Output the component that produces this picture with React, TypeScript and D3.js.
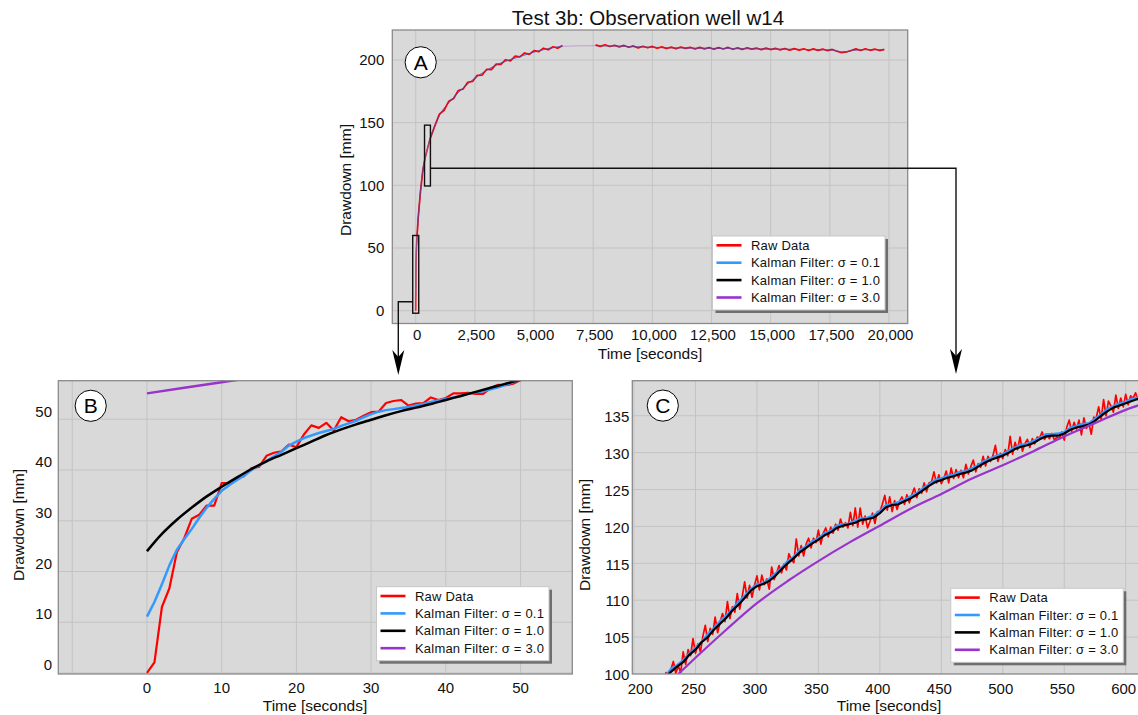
import React from "react";
import * as d3 from "d3";

const FONT = "'Liberation Sans', Arial, Helvetica, sans-serif";
const RED = "#ff0000";
const BLUE = "#3399ff";
const BLACK = "#000000";
const PURPLE = "#9933cc";
const BG = "#d9d9d9";
const GRID = "#c3c3c3";
const FRAME = "#8a8a8a";

// ---------------- shared legend ----------------
const legendLabels = [
  "Raw Data",
  "Kalman Filter: σ = 0.1",
  "Kalman Filter: σ = 1.0",
  "Kalman Filter: σ = 3.0",
];
const legendColors = [RED, BLUE, BLACK, PURPLE];

// ---------------- panel A (full test) ----------------
const xTicksA = [0, 2500, 5000, 7500, 10000, 12500, 15000, 17500, 20000];
const yTicksA = [0, 50, 100, 150, 200];

const rawA_early_t = [0, 10, 25, 50, 100, 200, 300, 400, 500, 600, 800];
const rawA_early_v = [0, 37.4, 47.8, 57.7, 73, 95, 112, 122, 129.6, 136.7, 147];

const rawA_rise_t = [
  1000, 1200, 1400, 1600, 1800, 2000, 2200, 2400, 2600, 2800, 3000, 3200, 3400, 3600,
  3800, 4000, 4200, 4400, 4600, 4800, 5000, 5200, 5400, 5600, 5800, 6000, 6200,
];
const rawA_rise_v = [
  156.8, 159.9, 167.1, 169.3, 175.6, 176.8, 182.2, 182.9, 187.7, 187.8, 192.6, 192.3,
  196.7, 196.5, 200.2, 199.3, 203.1, 202.4, 205.6, 204.5, 207.5, 206.6, 209.4, 208.1,
  210.5, 209.4, 211.5,
];

const rawA_late_t = [
  7600, 7800, 8000, 8200, 8400, 8600, 8800, 9000, 9200, 9400, 9600, 9800, 10000, 10200,
  10400, 10600, 10800, 11000, 11200, 11400, 11600, 11800, 12000, 12200, 12400, 12600,
  12800, 13000, 13200, 13400, 13600, 13800, 14000, 14200, 14400, 14600, 14800, 15000,
  15200, 15400, 15600, 15800, 16000, 16200, 16400, 16600, 16800, 17000, 17200, 17400,
  17600, 17800, 18000, 18200, 18400, 18600, 18800, 19000, 19200, 19400, 19600, 19800,
];
const rawA_late_v = [
  212.0, 210.8, 212.1, 210.7, 211.7, 210.4, 211.6, 210.1, 211.2, 209.6, 210.9, 209.7,
  210.8, 209.3, 210.4, 209.1, 210.2, 208.9, 210.3, 209.2, 210.1, 208.7, 210.0, 208.8,
  209.9, 208.6, 209.8, 208.7, 210.0, 208.5, 209.6, 208.4, 209.7, 208.6, 209.5, 208.2,
  209.4, 208.3, 209.3, 208.0, 209.1, 207.8, 209.0, 207.9, 208.9, 207.6, 208.8, 207.7,
  208.7, 207.4, 208.4, 207.0, 205.8, 206.4, 207.6, 208.8, 207.6, 208.9, 207.7, 208.7,
  207.5, 208.5,
];

const kalmanA_seg1_t = [
  0, 10, 25, 50, 100, 200, 300, 400, 500, 600, 800, 1000, 1500, 2000, 2500, 3000, 3500,
  4000, 4500, 5000, 5500, 6200,
];
const kalmanA_seg1_v = [
  11, 36, 48, 57, 72, 95, 112, 122, 129.6, 136.7, 147, 155.5, 168, 177.5, 185.5, 191.8,
  196.8, 200.3, 203.3, 206.3, 208.7, 210.9,
];
const kalmanA_seg2_t = [
  7600, 8500, 9500, 10500, 11500, 12500, 13500, 14500, 15500, 16500, 17500, 17800, 18000,
  18200, 18500, 19000, 19800,
];
const kalmanA_seg2_v = [
  211.4, 211.0, 210.4, 209.8, 209.5, 209.2, 209.1, 208.8, 208.6, 208.3, 208.0, 207.3,
  206.4, 206.6, 207.7, 208.2, 208.1,
];

// zoom windows drawn in panel A (data coordinates)
const zoomBoxB = { t0: -127, t1: 127, v0: -2, v1: 60, linkV: 7.2 };
const zoomBoxC = { t0: 372, t1: 621, v0: 99.5, v1: 148, linkV: 113.6 };

// ---------------- panel B (0 - 50 s) ----------------
const xTicksB = [0, 10, 20, 30, 40, 50];
const xGridB = [-10, 0, 10, 20, 30, 40, 50];
const yTicksB = [0, 10, 20, 30, 40, 50];

const timeB = d3.range(0, 51, 1);
const rawB = [
  0, 2.1, 13, 16.7, 23.8, 26.6, 30.4, 31.2, 33, 33, 37.4, 37.4, 38.4, 38.8, 40.4, 40.6,
  42.8, 43.4, 43.7, 45, 44.5, 47, 48.8, 48.3, 49.3, 47.8, 50.4, 49.6, 49.9, 50.7, 51.4,
  51.5, 53.2, 53.6, 53.8, 52.7, 53.1, 53.2, 54.3, 53.8, 54.2, 55.1, 55.1, 55.2, 55.0,
  55.0, 56.2, 56.8, 56.7, 57.0, 57.7,
];
const blueB = [
  11.1, 14.0, 17.5, 21.2, 24.3, 26.4, 28.4, 30.6, 32.6, 34.3, 35.9, 37.0, 38.0, 38.9,
  40.0, 40.9, 41.8, 42.7, 43.6, 44.8, 45.6, 46.3, 46.8, 47.3, 47.7, 48.1, 48.7, 49.2,
  49.7, 50.4, 51.0, 51.5, 51.8, 52.0, 52.2, 52.4, 52.7, 53.0, 53.4, 53.7, 54.0, 54.3,
  54.6, 55.0, 55.3, 55.5, 55.9, 56.3, 56.8, 57.3, 57.8,
];
const timeBlackB = d3.range(0, 51, 2);
const blackB = [
  24.0, 27.4, 30.2, 32.6, 34.8, 36.7, 38.5, 40.2, 41.7, 43.0, 44.3, 45.6, 46.9, 48.0,
  49.0, 49.9, 50.8, 51.6, 52.3, 53.0, 53.8, 54.6, 55.4, 56.2, 57.0, 57.8,
];
const timePurpleB = [0, 5, 10, 15];
const purpleB = [55.1, 56.2, 57.3, 58.4];

// ---------------- panel C (200 - 600 s) ----------------
const xTicksC = [200, 250, 300, 350, 400, 450, 500, 550, 600];
const yTicksC = [100, 105, 110, 115, 120, 125, 130, 135];

const timeRawC = d3.range(222, 611, 2);
const rawC = [
  98.8, 98.4, 100.2, 98.8, 100.6, 101.7, 100.1, 101.1, 100.2, 103.0,
  101.3, 103.3, 102.5, 104.8, 102.8, 104.1, 103.0, 105.1, 106.6, 104.4,
  106.2, 105.4, 107.7, 105.6, 107.0, 108.2, 107.1, 109.8, 107.5, 109.1,
  108.4, 110.9, 108.8, 110.5, 112.5, 110.3, 112.0, 110.4, 112.0, 113.3,
  111.4, 113.4, 112.1, 112.9, 111.5, 114.5, 112.8, 113.7, 114.7, 113.7,
  114.9, 114.1, 116.3, 115.5, 115.1, 118.3, 116.0, 117.4, 116.0, 117.6,
  118.4, 117.1, 118.4, 117.8, 119.5, 117.6, 119.1, 119.8, 118.6, 119.9,
  119.1, 120.3, 119.5, 121.0, 119.9, 120.5, 119.8, 121.9, 120.1, 122.5,
  119.9, 122.5, 120.3, 121.4, 119.8, 120.7, 121.8, 120.4, 122.0, 122.0,
  123.0, 124.2, 122.2, 124.0, 122.0, 123.5, 122.3, 123.4, 124.0, 123.0,
  124.3, 123.2, 124.3, 125.2, 123.9, 125.1, 124.5, 125.9, 124.7, 125.9,
  126.0, 127.4, 125.9, 127.0, 125.8, 126.5, 127.5, 125.9, 127.9, 126.5,
  127.7, 126.6, 127.6, 126.6, 128.4, 127.1, 128.1, 129.0, 127.4, 128.5,
  128.0, 129.5, 128.2, 129.5, 128.8, 129.6, 131.0, 128.8, 129.9, 129.2,
  130.4, 129.6, 132.2, 129.8, 131.4, 130.4, 132.1, 130.2, 131.2, 131.8,
  130.7, 131.9, 131.2, 132.1, 132.0, 132.8, 131.8, 132.3, 131.9, 132.6,
  131.7, 132.1, 131.9, 132.8, 131.7, 133.4, 134.4, 132.9, 134.1, 133.2,
  134.4, 132.4, 134.7, 133.3, 134.0, 132.5, 134.8, 134.7, 136.2, 134.5,
  137.2, 135.0, 137.0, 136.3, 135.5, 137.8, 136.0, 137.4, 136.2, 137.9,
  136.5, 137.7, 137.4, 138.1, 137.1,
];
const timeFilterC = d3.range(225, 611, 5);
const blueC = [
  99.6, 100.7, 101.2, 101.9, 102.8, 103.6, 104.4, 105.4, 106.2, 107.2, 107.9, 108.8,
  109.8, 110.6, 111.5, 112.2, 112.3, 112.9, 113.6, 114.4, 115.3, 115.9, 116.8, 117.3,
  118.0, 118.4, 119.1, 119.4, 120.1, 120.3, 120.4, 120.8, 121.1, 121.2, 121.5, 122.1,
  122.9, 123.0, 123.3, 123.6, 124.1, 124.5, 125.2, 125.7, 126.3, 126.5, 126.9, 127.0,
  127.4, 127.5, 127.9, 128.3, 128.9, 129.2, 129.6, 129.8, 130.3, 130.7, 131.1, 131.2,
  131.6, 132.0, 132.5, 132.5, 132.6, 132.8, 133.4, 133.6, 133.9, 134.0, 134.6, 135.2,
  135.9, 136.3, 136.7, 136.9, 137.3, 137.5,
];
const blackC = [
  99.4, 100.3, 101.0, 101.6, 102.6, 103.3, 104.3, 105.0, 106.0, 106.8, 107.6, 108.6,
  109.4, 110.3, 111.3, 111.9, 112.2, 112.6, 113.3, 114.2, 115.0, 115.7, 116.5, 117.1,
  117.7, 118.2, 118.8, 119.2, 119.8, 120.1, 120.3, 120.5, 120.9, 121.0, 121.2, 121.8,
  122.6, 122.9, 123.0, 123.4, 123.8, 124.3, 124.9, 125.5, 126.0, 126.3, 126.6, 126.8,
  127.1, 127.3, 127.6, 128.1, 128.6, 129.0, 129.3, 129.6, 130.0, 130.5, 130.8, 131.0,
  131.3, 131.8, 132.2, 132.3, 132.3, 132.6, 133.1, 133.4, 133.6, 133.8, 134.3, 135.0,
  135.6, 136.1, 136.4, 136.7, 137.0, 137.3,
];
const timePurpleC = [236, 250, 275, 300, 325, 350, 375, 400, 425, 450, 475, 500, 525, 550, 575, 600, 612];
const purpleC = [
  100, 102.2, 106.0, 109.6, 112.6, 115.3, 117.8, 120.1, 122.4, 124.4, 126.5, 128.3,
  130.2, 132.2, 134.0, 135.8, 136.5,
];

// ---------------- layout ----------------
const PA = { left: 392.3, right: 907.7, top: 30, bottom: 323.5 };
const PB = { left: 58.3, right: 572.3, top: 380.7, bottom: 674 };
const PC = { left: 632.3, right: 1141, top: 380.7, bottom: 674 };

const xA = d3.scaleLinear().domain([-990, 20790]).range([PA.left, PA.right]);
const yA = d3.scaleLinear().domain([-10.2, 223.9]).range([PA.bottom, PA.top]);
const xB = d3.scaleLinear().domain([-11.87, 56.93]).range([PB.left, PB.right]);
const yB = d3.scaleLinear().domain([-0.2, 57.6]).range([PB.bottom, PB.top]);
const xC = d3.scaleLinear().domain([198.6, 610]).range([PC.left, 1138]);
const yC = d3.scaleLinear().domain([100, 139.75]).range([PC.bottom, PC.top]);

type Scale = d3.ScaleLinear<number, number>;

function path(ts: number[], vs: number[], x: Scale, y: Scale, curve: d3.CurveFactory = d3.curveLinear) {
  return (
    d3
      .line<number>()
      .x((_, i) => x(ts[i]))
      .y((d) => y(d))
      .curve(curve)(vs) || ""
  );
}

const fmt = d3.format(",");

function Frame(props: {
  id: string;
  p: { left: number; right: number; top: number; bottom: number };
  x: Scale;
  y: Scale;
  xGrid: number[];
  yGrid: number[];
  children?: React.ReactNode;
}) {
  const { id, p, x, y, xGrid, yGrid } = props;
  return (
    <g>
      <defs>
        <clipPath id={id}>
          <rect x={p.left} y={p.top} width={p.right - p.left} height={p.bottom - p.top} />
        </clipPath>
      </defs>
      <rect x={p.left} y={p.top} width={p.right - p.left} height={p.bottom - p.top} fill={BG} />
      <g clipPath={`url(#${id})`}>
        {xGrid.map((t) => (
          <line key={"x" + t} x1={x(t)} x2={x(t)} y1={p.top} y2={p.bottom} stroke={GRID} strokeWidth={1} />
        ))}
        {yGrid.map((v) => (
          <line key={"y" + v} x1={p.left} x2={p.right} y1={y(v)} y2={y(v)} stroke={GRID} strokeWidth={1} />
        ))}
        {props.children}
      </g>
      <rect
        x={p.left}
        y={p.top}
        width={p.right - p.left}
        height={p.bottom - p.top}
        fill="none"
        stroke={FRAME}
        strokeWidth={1.3}
      />
    </g>
  );
}

function Legend({ x, y }: { x: number; y: number }) {
  const w = 172.5;
  const h = 74;
  return (
    <g>
      <rect x={x + 3} y={y + 3} width={w} height={h} fill="#5a5a5a" opacity={0.85} />
      <rect x={x} y={y} width={w} height={h} fill="#ffffff" stroke="#c8c8c8" strokeWidth={1} />
      {legendLabels.map((lab, i) => {
        const ry = y + 9.3 + i * 17.4;
        return (
          <g key={lab}>
            <line x1={x + 4} x2={x + 29} y1={ry} y2={ry} stroke={legendColors[i]} strokeWidth={2.6} />
            <text
              x={x + 38.5}
              y={ry}
              dy="0.35em"
              fontSize={13}
              letterSpacing={0.2}
              fill="#111"
              fontFamily={FONT}
            >
              {lab}
            </text>
          </g>
        );
      })}
    </g>
  );
}

function Badge({ cx, cy, label }: { cx: number; cy: number; label: string }) {
  return (
    <g>
      <circle cx={cx} cy={cy} r={15.6} fill="#ffffff" stroke="#000" strokeWidth={1} />
      <text x={cx} y={cy} dy="0.36em" textAnchor="middle" fontSize={21} fontFamily={FONT} fill="#000">
        {label}
      </text>
    </g>
  );
}

function Arrow({ x, tip }: { x: number; tip: number }) {
  const d = `M${x},${tip} L${x - 6},${tip - 25} L${x},${tip - 18} L${x + 6},${tip - 25} Z`;
  return <path d={d} fill="#000" />;
}

export default function App() {
  const tickStyle = { fontFamily: FONT, fontSize: 15, fill: "#111" } as const;
  const titleStyle = { fontFamily: FONT, fontSize: 15.5, fill: "#111" } as const;

  // connectors from panel A
  const bBoxX0 = xA(zoomBoxB.t0);
  const bBoxY = yA(zoomBoxB.linkV);
  const cBoxX1 = xA(zoomBoxC.t1);
  const cBoxY = yA(zoomBoxC.linkV);
  const arrowBX = 398.3;
  const arrowCX = 956;

  return (
    <svg
      width={1138}
      height={715}
      style={{ position: "absolute", left: 0, top: 0, background: "#ffffff" }}
      fontFamily={FONT}
    >
      <rect x={0} y={0} width={1138} height={715} fill="#ffffff" />

      {/* Title */}
      <text x={648} y={18} dy="0.35em" textAnchor="middle" fontSize={20.5} fontFamily={FONT} fill="#111">
        Test 3b: Observation well w14
      </text>

      {/* ---------------- Panel A ---------------- */}
      <Frame id="clipA" p={PA} x={xA} y={yA} xGrid={xTicksA} yGrid={yTicksA}>
        <path d={path(rawA_early_t.concat(rawA_rise_t), rawA_early_v.concat(rawA_rise_v), xA, yA)} fill="none" stroke={RED} strokeWidth={1.7} strokeLinejoin="round" />
        <path d={path(rawA_late_t, rawA_late_v, xA, yA)} fill="none" stroke={RED} strokeWidth={1.7} strokeLinejoin="round" />
        <path d={path(kalmanA_seg1_t, kalmanA_seg1_v, xA, yA, d3.curveMonotoneX)} fill="none" stroke={BLUE} strokeWidth={0.6} opacity={0.8} />
        <path d={path(kalmanA_seg2_t, kalmanA_seg2_v, xA, yA, d3.curveMonotoneX)} fill="none" stroke={BLUE} strokeWidth={0.6} opacity={0.8} />
        <path d={path(kalmanA_seg1_t, kalmanA_seg1_v, xA, yA, d3.curveMonotoneX)} fill="none" stroke={BLACK} strokeWidth={0.5} opacity={0.55} />
        <path d={path(kalmanA_seg2_t, kalmanA_seg2_v, xA, yA, d3.curveMonotoneX)} fill="none" stroke={BLACK} strokeWidth={0.5} opacity={0.55} />
        <path
          d={path(kalmanA_seg1_t.concat(kalmanA_seg2_t), kalmanA_seg1_v.concat(kalmanA_seg2_v), xA, yA, d3.curveMonotoneX)}
          fill="none"
          stroke={PURPLE}
          strokeWidth={0.6}
          opacity={0.6}
        />
        {/* zoom windows */}
        <rect
          x={xA(zoomBoxB.t0)}
          y={yA(zoomBoxB.v1)}
          width={xA(zoomBoxB.t1) - xA(zoomBoxB.t0)}
          height={yA(zoomBoxB.v0) - yA(zoomBoxB.v1)}
          fill="#ffffff"
          fillOpacity={0.15}
          stroke="#111"
          strokeWidth={1.4}
        />
        <rect
          x={xA(zoomBoxC.t0)}
          y={yA(zoomBoxC.v1)}
          width={xA(zoomBoxC.t1) - xA(zoomBoxC.t0)}
          height={yA(zoomBoxC.v0) - yA(zoomBoxC.v1)}
          fill="#ffffff"
          fillOpacity={0.15}
          stroke="#111"
          strokeWidth={1.4}
        />
      </Frame>
      {yTicksA.map((v) => (
        <text key={v} x={384.3} y={yA(v)} dy="0.35em" textAnchor="end" {...tickStyle}>
          {v}
        </text>
      ))}
      {xTicksA.map((t) => (
        <text key={t} x={xA(t) + 1.5} y={335} dy="0.35em" textAnchor="middle" {...tickStyle}>
          {fmt(t)}
        </text>
      ))}
      <text x={650} y={353.5} dy="0.35em" textAnchor="middle" {...titleStyle}>
        Time [seconds]
      </text>
      <text transform="translate(345.7,180) rotate(-90)" dy="0.35em" textAnchor="middle" {...titleStyle}>
        Drawdown [mm]
      </text>
      <Badge cx={420.7} cy={62.3} label="A" />
      <Legend x={712.5} y={236} />

      {/* connectors */}
      <polyline
        points={`${bBoxX0},${bBoxY} ${arrowBX},${bBoxY} ${arrowBX},${357}`}
        fill="none"
        stroke="#111"
        strokeWidth={1.4}
      />
      <Arrow x={arrowBX} tip={375} />
      <polyline
        points={`${cBoxX1},${cBoxY} ${arrowCX},${cBoxY} ${arrowCX},${356}`}
        fill="none"
        stroke="#111"
        strokeWidth={1.4}
      />
      <Arrow x={arrowCX} tip={374} />

      {/* ---------------- Panel B ---------------- */}
      <Frame id="clipB" p={PB} x={xB} y={yB} xGrid={xGridB} yGrid={yTicksB}>
        <path d={path(timeB, rawB, xB, yB)} fill="none" stroke={RED} strokeWidth={2.2} strokeLinejoin="round" />
        <path d={path(timeB, blueB, xB, yB)} fill="none" stroke={BLUE} strokeWidth={2.5} strokeLinejoin="round" />
        <path d={path(timeBlackB, blackB, xB, yB, d3.curveMonotoneX)} fill="none" stroke={BLACK} strokeWidth={2.5} />
        <path d={path(timePurpleB, purpleB, xB, yB)} fill="none" stroke={PURPLE} strokeWidth={2.5} />
      </Frame>
      {yTicksB.map((v) => (
        <text key={v} x={52} y={yB(v) - 8} dy="0.35em" textAnchor="end" {...tickStyle}>
          {v}
        </text>
      ))}
      {xTicksB.map((t) => (
        <text key={t} x={xB(t)} y={688} dy="0.35em" textAnchor="middle" {...tickStyle}>
          {t}
        </text>
      ))}
      <text x={315} y={706} dy="0.35em" textAnchor="middle" {...titleStyle}>
        Time [seconds]
      </text>
      <text transform="translate(19,525) rotate(-90)" dy="0.35em" textAnchor="middle" {...titleStyle}>
        Drawdown [mm]
      </text>
      <Badge cx={90.7} cy={405.8} label="B" />
      <Legend x={376.5} y={586.7} />

      {/* ---------------- Panel C ---------------- */}
      <Frame id="clipC" p={PC} x={xC} y={yC} xGrid={xTicksC} yGrid={yTicksC}>
        <path d={path(timeRawC, rawC, xC, yC)} fill="none" stroke={RED} strokeWidth={1.7} strokeLinejoin="round" />
        <path d={path(timeFilterC, blueC, xC, yC)} fill="none" stroke={BLUE} strokeWidth={2.2} strokeLinejoin="round" />
        <path d={path(timeFilterC, blackC, xC, yC)} fill="none" stroke={BLACK} strokeWidth={2.2} strokeLinejoin="round" />
        <path d={path(timePurpleC, purpleC, xC, yC, d3.curveMonotoneX)} fill="none" stroke={PURPLE} strokeWidth={2.2} />
      </Frame>
      {yTicksC.map((v) => (
        <text key={v} x={629.3} y={yC(v) + 1} dy="0.35em" textAnchor="end" {...tickStyle}>
          {v}
        </text>
      ))}
      {xTicksC.map((t) => (
        <text key={t} x={Math.max(xC(t) - 2, PC.left + 8)} y={689} dy="0.35em" textAnchor="middle" {...tickStyle}>
          {t}
        </text>
      ))}
      <text x={889} y={706} dy="0.35em" textAnchor="middle" {...titleStyle}>
        Time [seconds]
      </text>
      <text transform="translate(585,535) rotate(-90)" dy="0.35em" textAnchor="middle" {...titleStyle}>
        Drawdown [mm]
      </text>
      <Badge cx={662.8} cy={405.6} label="C" />
      <Legend x={950.8} y={588.3} />
    </svg>
  );
}
